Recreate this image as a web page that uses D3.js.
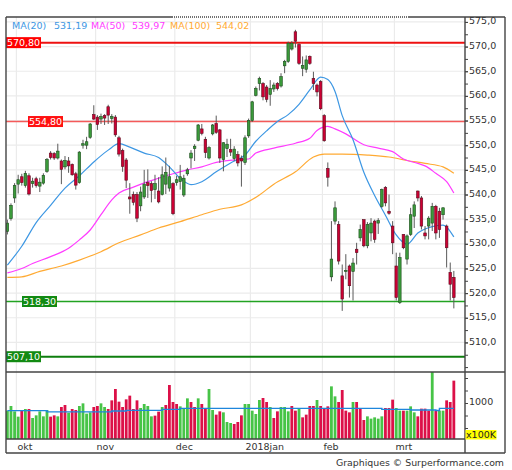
<!DOCTYPE html>
<html>
<head>
<meta charset="utf-8">
<script src="https://cdn.jsdelivr.net/npm/d3@7"></script>
<style>
  body { margin: 0; background: #fff; }
  text { font-family: "DejaVu Sans", sans-serif; }
</style>
</head>
<body>
<script>
// daily candles (index 0 = late sept)
const openP = [
  532.5, 535.1, 539.3, 542.1, 543.6, 541.8, 543.8, 542.2, 543.2, 541.7,
  542.3, 544.7, 548.4, 548.3, 547.4, 546.8, 545.6, 546.8, 546.1, 544.2,
  542.4, 550.0, 550.0, 551.6, 556.2, 555.7, 555.3, 556.0, 557.8, 555.4,
  555.7, 551.5, 548.9, 547.0, 539.5, 540.0, 540.0, 537.7, 539.5, 542.4,
  542.2, 541.0, 540.7, 540.0, 542.1, 541.3, 542.2, 542.4, 542.6, 539.9,
  544.2, 547.4, 549.3, 551.0, 553.3, 551.2, 547.4, 552.3, 554.4, 553.1,
  547.1, 549.3, 549.1, 547.3, 548.1, 547.3, 546.5, 551.9, 555.0, 560.1,
  562.5, 562.5, 561.8, 560.3, 561.4, 562.5, 562.0, 566.1, 567.0, 569.5,
  573.0, 570.4, 565.6, 565.4, 568.0, 563.5, 562.2, 562.9, 556.0, 545.3,
  523.3, 534.6, 533.9, 523.5, 524.4, 525.5, 524.4, 528.9, 531.2, 534.9,
  529.6, 532.2, 534.6, 534.2, 537.6, 541.4, 536.6, 533.6, 525.5, 518.1,
  531.9, 526.9, 531.9, 535.6, 540.7, 539.3, 532.2, 533.6, 534.2, 537.6,
  536.6, 535.9, 533.6, 524.2, 523.2
];
const highP = [
  534.9, 538.2, 542.3, 544.0, 544.2, 544.8, 544.3, 543.4, 543.6, 543.4,
  544.3, 547.4, 548.8, 548.6, 550.3, 547.1, 547.8, 547.6, 546.3, 544.6,
  548.8, 551.1, 551.7, 554.5, 558.1, 556.1, 556.4, 556.3, 558.2, 556.3,
  556.1, 551.9, 549.3, 547.4, 542.3, 540.6, 540.5, 541.6, 545.0, 545.1,
  542.7, 544.0, 543.5, 545.7, 547.5, 545.8, 542.5, 543.8, 546.0, 544.0,
  545.4, 549.0, 550.2, 554.3, 554.3, 551.7, 549.8, 554.3, 556.0, 553.3,
  550.6, 551.3, 551.3, 549.8, 548.8, 547.9, 552.0, 555.4, 559.0, 561.9,
  563.9, 562.8, 562.2, 563.2, 562.7, 562.8, 564.6, 567.3, 571.0, 571.1,
  573.4, 570.7, 568.0, 568.2, 568.2, 564.9, 562.5, 563.2, 556.3, 546.5,
  534.6, 538.6, 534.6, 525.8, 527.9, 525.8, 527.1, 530.2, 533.9, 534.9,
  534.4, 535.2, 534.9, 535.2, 541.2, 541.7, 540.0, 534.6, 528.2, 528.2,
  531.9, 531.9, 537.3, 538.6, 540.8, 539.7, 533.6, 535.6, 538.3, 537.9,
  537.3, 537.4, 533.9, 526.2, 524.5
];
const lowP = [
  531.9, 534.7, 538.3, 540.2, 541.8, 541.4, 539.8, 541.4, 541.4, 540.5,
  542.0, 544.4, 547.1, 547.0, 547.1, 542.1, 545.1, 544.4, 543.8, 541.0,
  542.2, 549.3, 549.2, 551.3, 555.1, 553.1, 554.3, 554.1, 554.3, 554.4,
  551.7, 547.7, 544.6, 541.3, 536.1, 537.8, 534.4, 536.6, 539.1, 539.3,
  538.4, 539.1, 538.2, 539.8, 540.1, 540.6, 535.8, 541.8, 541.0, 539.5,
  543.8, 545.3, 546.8, 550.8, 552.0, 547.4, 547.1, 552.0, 552.3, 546.4,
  544.7, 547.6, 547.8, 546.8, 545.7, 541.6, 546.0, 551.5, 554.7, 559.9,
  561.1, 559.1, 558.7, 558.0, 560.8, 561.1, 561.7, 564.6, 566.7, 569.2,
  569.8, 566.3, 564.0, 564.7, 566.3, 561.2, 559.9, 557.1, 550.7, 541.6,
  522.4, 533.9, 525.8, 516.4, 522.8, 519.1, 518.5, 525.8, 530.5, 529.3,
  529.1, 530.5, 530.2, 532.0, 537.3, 537.6, 535.9, 527.9, 518.5, 517.8,
  528.9, 525.8, 531.6, 533.2, 538.6, 532.9, 530.9, 530.9, 532.6, 530.9,
  531.2, 534.9, 525.2, 518.5, 516.9
];
const closeP = [
  534.2, 537.8, 541.8, 543.0, 542.4, 544.3, 540.1, 542.7, 541.8, 542.5,
  543.9, 547.1, 547.5, 547.4, 548.8, 545.1, 546.9, 545.8, 544.0, 541.9,
  548.6, 550.3, 550.7, 554.3, 555.3, 554.2, 555.8, 555.5, 556.1, 555.8,
  552.1, 548.2, 545.7, 542.9, 539.1, 538.4, 535.2, 540.5, 542.1, 541.8,
  540.8, 542.2, 538.5, 544.0, 544.5, 543.6, 536.1, 543.0, 543.6, 543.3,
  545.0, 548.4, 549.8, 554.1, 552.4, 548.5, 549.5, 554.1, 552.6, 547.4,
  550.5, 550.2, 548.6, 549.2, 546.4, 546.8, 551.5, 555.0, 558.8, 561.5,
  563.5, 559.8, 559.3, 561.5, 562.2, 561.5, 563.9, 567.0, 570.7, 570.7,
  571.1, 566.6, 566.2, 567.3, 566.6, 562.5, 560.8, 557.4, 550.9, 543.5,
  526.9, 537.3, 526.5, 518.8, 524.6, 521.5, 526.1, 528.2, 532.9, 529.6,
  533.9, 534.2, 530.9, 534.7, 541.0, 538.3, 536.2, 530.2, 519.1, 527.2,
  529.2, 531.6, 535.9, 537.9, 539.3, 533.6, 531.6, 535.2, 537.6, 532.2,
  532.9, 537.3, 529.2, 521.8, 519.1
];

// volume in x100K, and bar colour as drawn (g = up, r = down)
const volume = [
  847, 940, 833, 727, 860, 880, 880, 700, 753, 833,
  733, 860, 727, 753, 733, 920, 960, 807, 880, 860,
  940, 993, 787, 813, 920, 940, 993, 920, 880, 1053,
  1280, 1027, 920, 1073, 1147, 880, 1053, 900, 980, 940,
  733, 747, 827, 920, 960, 1360, 1020, 980, 933, 900,
  1093, 1020, 920, 1093, 980, 900, 1280, 860, 767, 833,
  813, 620, 600, 580, 620, 753, 980, 980, 847, 780,
  1060, 1100, 1020, 920, 700, 833, 920, 920, 833, 940,
  847, 887, 713, 767, 940, 940, 1060, 940, 900, 933,
  1333, 1133, 1020, 1260, 847, 813, 1020, 1020, 900, 660,
  733, 687, 713, 687, 733, 900, 900, 1067, 900, 847,
  847, 847, 933, 813, 733, 887, 887, 847, 1700, 847,
  847, 847, 1053, 1020, 1447
];
const volDir =
  "ggggrgrggg" + "ggrrgrrgrr" + "ggggrrggrr" + "rrrrrrrggg" + "grrgrrrrgg" +
  "grrgrrggrr" + "gggrr" + "rgggggrrgr" + "rgggrrgrrr" + "rgrrrggrrr" +
  "rgrrrggggg" + "rrrggrgggr" + "rrrgrggrrr";

// volume average (step line)
const volAvgIdx = [0, 11, 29, 33, 43, 48, 104, 112, 119, 120, 124];
const volAvg = [847, 822, 840, 853, 873, 893, 873, 860, 850, 893, 893];

// moving averages, sampled along the curve
const ma20Idx = [0, 4, 8, 12, 16, 20, 24, 28, 31, 34, 38, 42, 45, 48, 51, 54, 58, 62, 66, 69,
  72, 75, 78, 81, 84, 87, 89, 91, 93, 96, 99, 102, 105, 108, 111, 114, 118, 121, 124];
const ma20 = [525.7, 529.5, 534.3, 537.8, 541.3, 543.8, 546.6, 549.0, 550.3, 549.6, 548.4,
  547.5, 545.6, 543.3, 542.0, 542.6, 544.6, 546.4, 548.0, 550.8, 552.9, 554.8, 556.2, 558.3,
  561.2, 563.8, 563.3, 560.9, 556.0, 551.1, 544.5, 539.8, 535.8, 531.8, 529.9, 532.2, 533.5,
  533.8, 531.4];
const ma50Idx = [0, 4, 7, 12, 17, 20, 23, 26, 29, 31, 35, 39, 42, 46, 50, 54, 58, 63, 67, 69,
  74, 80, 84, 86, 89, 91, 94, 99, 103, 107, 110, 114, 116, 119, 122, 124];
const ma50 = [524.1, 525.0, 526.0, 527.4, 529.1, 530.8, 532.8, 535.9, 538.9, 540.3, 541.5,
  542.6, 543.3, 544.2, 545.0, 545.6, 546.5, 547.0, 547.2, 548.4, 549.4, 550.4, 551.4, 553.0,
  553.8, 553.3, 552.3, 550.1, 549.4, 548.7, 547.2, 546.3, 545.8, 544.3, 542.6, 540.3];
const ma100Idx = [0, 4, 9, 15, 20, 26, 31, 37, 42, 48, 54, 59, 65, 70, 74, 80, 85, 88, 93,
  100, 106, 111, 116, 121, 124];
const ma100 = [523.2, 523.3, 524.4, 525.5, 526.7, 528.4, 530.2, 531.8, 533.2, 534.5, 535.9,
  537.0, 537.9, 539.9, 542.1, 544.6, 547.6, 548.2, 548.2, 548.0, 547.6, 546.9, 546.3, 545.6,
  544.3];

const maNames = ["MA(20)", "MA(50)", "MA(100)"];
const maLast = [531.19, 539.97, 544.02];

// horizontal reference levels
const levels = [570.8, 554.8, 518.3, 507.1];

// month ticks: name and index of first trading day
const monthNames = ["okt", "nov", "dec", "2018jan", "feb", "mrt"];
const monthStart = [3, 25, 47, 68, 88, 108];

const priceTicks = d3.range(510, 576, 5);
const volTicks = [500, 750, 1000, 1250, 1500];

// ---- layout
const leftX = 6, rightX = 465, outerX = 505, topY = 17, priceBottom = 372, volBottom = 439, bottomY = 453;
const maColors = ["#3d97e3", "#ff3cff", "#ffaa33"];
const levelStyle = [
  { color: "#ee1111", box: "#ff0000", width: 2, boxX: 6 },
  { color: "#f45a5a", box: "#ff1111", width: 1.4, boxX: 28 },
  { color: "#22a322", box: "#128a12", width: 1.3, boxX: 22 },
  { color: "#0e7e0e", box: "#128a12", width: 2, boxX: 6 }
];

const loc = d3.formatLocale({ decimal: ",", thousands: ".", grouping: [3], currency: ["", ""] });
const f1 = loc.format(".1f"), f2 = loc.format(".2f");

const svg = d3.select("body").append("svg")
    .attr("width", 512)
    .attr("height", 470);

const x = d3.scaleLinear().domain([-0.3, 127.1]).range([6.3, rightX]);
const y = d3.scaleLinear().domain([504, 576]).range([priceBottom, topY]);
const yv = d3.scaleLinear().domain([280, 1620]).range([volBottom, priceBottom]);

svg.append("clipPath").attr("id", "clipP")
  .append("rect").attr("x", leftX).attr("y", topY).attr("width", rightX - leftX).attr("height", priceBottom - topY);
svg.append("clipPath").attr("id", "clipV")
  .append("rect").attr("x", leftX).attr("y", priceBottom).attr("width", rightX - leftX).attr("height", volBottom - priceBottom);

// grid
const grid = svg.append("g").attr("stroke", "#ebebeb").attr("stroke-width", 1.2);
grid.selectAll(".hg").data(priceTicks).join("line")
    .attr("x1", leftX).attr("x2", rightX)
    .attr("y1", d => y(d)).attr("y2", d => y(d));
grid.selectAll(".vg").data(monthStart).join("line")
    .attr("x1", d => x(d - 0.5)).attr("x2", d => x(d - 0.5))
    .attr("y1", topY).attr("y2", volBottom);

// reference levels
const lv = svg.append("g");
lv.selectAll("line").data(levels).join("line")
    .attr("x1", leftX).attr("x2", rightX)
    .attr("y1", d => y(d)).attr("y2", d => y(d))
    .attr("stroke", (d, i) => levelStyle[i].color)
    .attr("stroke-width", (d, i) => levelStyle[i].width);

// moving averages
const idxSets = [ma20Idx, ma50Idx, ma100Idx];
const maSets = [ma20, ma50, ma100];
const maLine = d3.line().curve(d3.curveMonotoneX).x(d => x(d[0])).y(d => y(d[1]));
const maG = svg.append("g").attr("clip-path", "url(#clipP)");
[2, 1, 0].forEach(k => {
  maG.append("path")
      .datum(idxSets[k].map((d, i) => [d, maSets[k][i]]))
      .attr("d", maLine)
      .attr("fill", "none")
      .attr("stroke", maColors[k])
      .attr("stroke-width", 1.2);
});

// candles
const idx = d3.range(openP.length);
const cg = svg.append("g").attr("clip-path", "url(#clipP)");
cg.selectAll(".wick").data(idx).join("line")
    .attr("x1", i => x(i)).attr("x2", i => x(i))
    .attr("y1", i => y(highP[i])).attr("y2", i => y(lowP[i]))
    .attr("stroke", "#5a5a5a").attr("stroke-width", 1);
cg.selectAll(".body").data(idx).join("rect")
    .attr("x", i => x(i) - 1.3)
    .attr("width", 2.6)
    .attr("y", i => y(Math.max(openP[i], closeP[i])))
    .attr("height", i => Math.max(1, Math.abs(y(openP[i]) - y(closeP[i]))))
    .attr("fill", i => closeP[i] >= openP[i] ? "#3a9a3a" : "#cc0033")
    .attr("stroke", i => closeP[i] >= openP[i] ? "#1d4d1d" : "#5e0a1e")
    .attr("stroke-width", 0.6);

// level labels
const lb = svg.append("g");
levels.forEach((v, i) => {
  const s = levelStyle[i];
  lb.append("rect")
      .attr("x", s.boxX).attr("y", y(v) - 5.5)
      .attr("width", 35).attr("height", 11)
      .attr("fill", s.box);
  lb.append("text")
      .attr("x", s.boxX + 17.5).attr("y", y(v) + 3.6)
      .attr("text-anchor", "middle")
      .attr("fill", "#fff")
      .style("font-size", "9.5px")
      .text(f2(v));
});

// volume bars
const vg = svg.append("g").attr("clip-path", "url(#clipV)");
vg.selectAll("rect").data(idx).join("rect")
    .attr("x", i => x(i) - 1.4)
    .attr("width", 2.8)
    .attr("y", i => yv(volume[i]))
    .attr("height", i => yv(280) - yv(volume[i]))
    .attr("fill", i => volDir[i] === "g" ? "#47c447" : "#dc1048");
vg.append("path")
    .datum(volAvgIdx.map((d, i) => [d, volAvg[i]]))
    .attr("d", d3.line().curve(d3.curveStepAfter).x(d => x(d[0])).y(d => yv(d[1])))
    .attr("fill", "none")
    .attr("stroke", "#1e86dc")
    .attr("stroke-width", 1.4);

// frame
const fr = svg.append("g").attr("stroke", "#444").attr("stroke-width", 1.4).attr("fill", "none");
fr.append("line").attr("x1", leftX).attr("x2", 172).attr("y1", topY).attr("y2", topY);
fr.append("line").attr("x1", 172).attr("x2", 409).attr("y1", topY).attr("y2", topY).attr("stroke-dasharray", "1,1");
fr.append("line").attr("x1", 409).attr("x2", outerX).attr("y1", topY).attr("y2", topY);
fr.append("line").attr("x1", leftX).attr("x2", leftX).attr("y1", topY).attr("y2", bottomY);
fr.append("line").attr("x1", outerX).attr("x2", outerX).attr("y1", topY).attr("y2", bottomY);
fr.append("line").attr("x1", rightX).attr("x2", rightX).attr("y1", topY).attr("y2", bottomY);
fr.append("line").attr("x1", leftX).attr("x2", outerX).attr("y1", bottomY).attr("y2", bottomY);
fr.append("line").attr("x1", leftX).attr("x2", outerX).attr("y1", priceBottom).attr("y2", priceBottom);
fr.append("line").attr("x1", leftX).attr("x2", rightX).attr("y1", volBottom).attr("y2", volBottom);

// price axis
function styleAxis(g) {
  g.select(".domain").remove();
  g.selectAll("line").attr("stroke", "#444");
  g.selectAll("text").attr("fill", "#333").attr("dy", "0.2em")
      .style("font-family", "DejaVu Sans").style("font-size", "9.5px");
}
svg.append("g")
    .attr("transform", `translate(${rightX},0)`)
    .call(d3.axisRight(y).tickValues(d3.range(505, 576, 2.5)).tickSize(3).tickFormat(""))
    .call(styleAxis);
svg.append("g")
    .attr("transform", `translate(${rightX},0)`)
    .call(d3.axisRight(y).tickValues(priceTicks).tickSize(3).tickPadding(1).tickFormat(f1))
    .call(styleAxis);

// volume axis
svg.append("g")
    .attr("transform", `translate(${rightX},0)`)
    .call(d3.axisRight(yv).tickValues(volTicks).tickSize(3).tickPadding(1)
      .tickFormat(d => d === 1000 ? String(d) : ""))
    .call(styleAxis);
svg.append("rect")
    .attr("x", rightX + 0.5).attr("y", 430).attr("width", 31).attr("height", 9.5)
    .attr("fill", "#ffff00");
svg.append("text")
    .attr("x", rightX + 16).attr("y", 438)
    .attr("text-anchor", "middle")
    .attr("fill", "#222")
    .style("font-size", "9.5px")
    .text("x100K");

// month labels
svg.selectAll(".month").data(monthNames).join("text")
    .attr("x", (d, i) => x(monthStart[i] - 0.5) + 1 - (d.length > 3 ? 6 : 0))
    .attr("y", 449.5)
    .attr("fill", "#333")
    .style("font-size", "9.5px")
    .text(d => d);

// legend
const legX = [12, 54, 91, 132, 170, 216];
maNames.forEach((n, k) => {
  svg.append("text").attr("x", legX[2 * k]).attr("y", 28.5)
      .attr("fill", maColors[k]).style("font-size", "9.5px").text(n);
  svg.append("text").attr("x", legX[2 * k + 1]).attr("y", 28.5)
      .attr("fill", maColors[k]).style("font-size", "9.5px").text(f2(maLast[k]));
});

// credit
svg.append("text")
    .attr("x", 504).attr("y", 465.5)
    .attr("text-anchor", "end")
    .attr("fill", "#333")
    .style("font-size", "9.4px")
    .text("Graphiques © Surperformance.com");
</script>
</body>
</html>
